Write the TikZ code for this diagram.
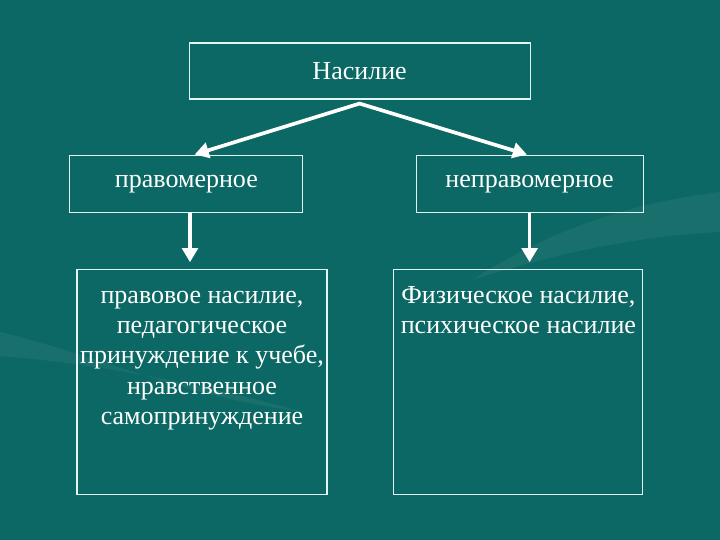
\documentclass[tikz,border=0pt]{standalone}
\usepackage{fontspec}
\setmainfont{Liberation Serif}
\usetikzlibrary{arrows.meta}

\definecolor{bgteal}{RGB}{12,104,100}
\definecolor{boxline}{RGB}{225,245,242}
\tikzstyle{dir}=[{Triangle[length=10pt,width=11pt]}-{Triangle[length=10pt,width=11pt]}, line width=2.6pt, white, line join=miter]
\tikzstyle{down}=[-{Triangle[length=10pt,width=11pt]}, line width=2.6pt, white]
\tikzstyle{box}=[draw=boxline, line width=0.8pt, rectangle, inner sep=0pt]
\tikzstyle{txt}=[text=white, font=\fontsize{18.5}{21.5}\selectfont, align=center]
\tikzstyle{swoosh}=[white, opacity=0.05]

\begin{document}
\begin{tikzpicture}
	\fill[bgteal] (0,0) rectangle (18,13.5);
	\useasboundingbox (0,0) rectangle (18,13.5);
	% faint background swooshes
	\fill[swoosh] (0,5.2) .. controls (2.5,4.6) and (4.5,3.6) .. (7.6,3.2) .. controls (5,3.9) and (2.5,4.4) .. (0,4.6) -- cycle;
	\fill[swoosh] (18,8.7) .. controls (15.5,8.4) and (13.5,7.6) .. (11.8,6.5) .. controls (14,7.2) and (16,7.6) .. (18,7.7) -- cycle;

	\node[box, txt, minimum width=8.525cm, minimum height=1.4cm] (top) at (8.99,11.725) {Насилие};
	\node[box, txt, minimum width=5.825cm, minimum height=1.425cm] (lmid) at (4.66,8.89) {правомерное};
	\node[box, txt, minimum width=5.675cm, minimum height=1.425cm] (rmid) at (13.24,8.89) {неправомерное};
	\node[box, minimum width=6.25cm, minimum height=5.625cm] (lbot) at (5.05,3.94) {};
	\node[box, minimum width=6.225cm, minimum height=5.625cm] (rbot) at (12.96,3.94) {};

	\node[txt, anchor=north] (ltext) at ([yshift=-0.2cm]lbot.north) {\strut правовое насилие,\\педагогическое\\принуждение к учебе,\\нравственное\\самопринуждение};
	\node[txt, anchor=north] (rtext) at ([yshift=-0.2cm]rbot.north) {\strut Физическое насилие,\\психическое насилие};

	\draw[dir, shorten <=2pt, shorten >=2pt] ([xshift=0.14cm]lmid.north) -- ([yshift=-0.1cm]top.south) -- (rmid.north);
	\draw[down, shorten >=5pt] ([xshift=0.09cm]lmid.south) -- ([xshift=0.09cm]lmid.south |- lbot.north);
	\draw[down, shorten >=5pt] (rmid.south) -- (rmid.south |- rbot.north);
\end{tikzpicture}
\end{document}
